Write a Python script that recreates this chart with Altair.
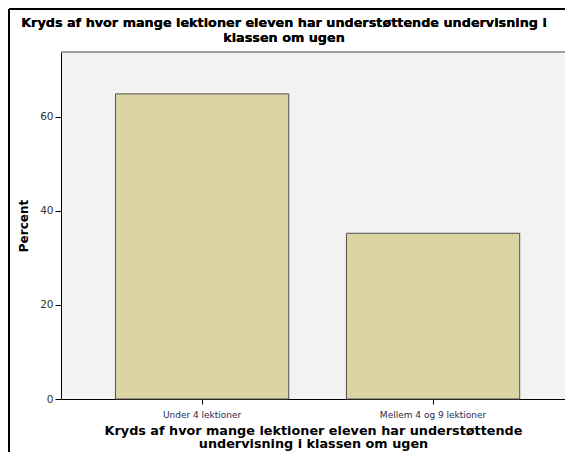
import altair as alt
import pandas as pd

categories = ["Under 4 lektioner", "Mellem 4 og 9 lektioner"]
percents = [64.8, 35.2]
y_ticks = [0, 20, 40, 60]

title_lines = ["Kryds af hvor mange lektioner eleven har understøttende undervisning i",
               "klassen om ugen"]
x_title_lines = ["Kryds af hvor mange lektioner eleven har understøttende",
                 "undervisning i klassen om ugen"]

df = pd.DataFrame({"cat": categories, "pct": percents})

FONT = "DejaVu Sans"
W, H = 504, 347

bars = alt.Chart(df).mark_bar(
    color="#dbd5a4", stroke="#505050", strokeWidth=1
).encode(
    x=alt.X("cat:N", sort=categories,
            scale=alt.Scale(paddingInner=0.25, paddingOuter=0.216, align=0.546),
            axis=alt.Axis(title=x_title_lines, labelAngle=0, labelFontSize=9,
                          labelColor="#2a2a4a", labelPadding=6, tickSize=5,
                          tickColor="#000", domainColor="#000",
                          titleFontSize=12.8, titleFontWeight="bold",
                          titleFont=FONT, titleColor="#000", titlePadding=5,
                          titleLineHeight=13.5)),
    y=alt.Y("pct:Q",
            scale=alt.Scale(domain=[0, 73.7], nice=False, zero=True),
            axis=alt.Axis(title="Percent", values=y_ticks, grid=False,
                          labelFontSize=10.5, labelColor="#333", tickSize=6,
                          labelPadding=2, tickColor="#000", domainColor="#000",
                          titleFontSize=12, titleFontWeight="bold",
                          titleFont=FONT, titleColor="#000", titlePadding=9)),
)

top_border = alt.Chart(df).mark_rule(color="#808080", strokeWidth=1).encode(
    x=alt.value(0), x2=alt.value(W), y=alt.value(0)
)

title = alt.Chart(df).mark_text(
    text=title_lines, font=FONT, fontSize=12.8, fontWeight="bold", color="#000",
    align="center", baseline="alphabetic", lineHeight=14.5
).encode(x=alt.value(223), y=alt.value(-25))

frame_left = alt.Chart(df).mark_rule(color="#000", strokeWidth=2).encode(
    x=alt.value(-52), y=alt.value(-43), y2=alt.value(420)
)
frame_top = alt.Chart(df).mark_rule(color="#000", strokeWidth=2).encode(
    x=alt.value(-52), x2=alt.value(W + 10), y=alt.value(-43)
)

chart = alt.layer(bars, top_border, title, frame_left, frame_top).properties(
    width=W, height=H,
    autosize=alt.AutoSizeParams(type="none"),
    padding={"left": 53, "top": 44, "right": 0, "bottom": 53},
).configure(
    font=FONT, background="white"
).configure_view(
    fill="#f2f2f2", strokeWidth=0
)

chart.save("out.html", embed_options={"renderer": "svg", "actions": False})
